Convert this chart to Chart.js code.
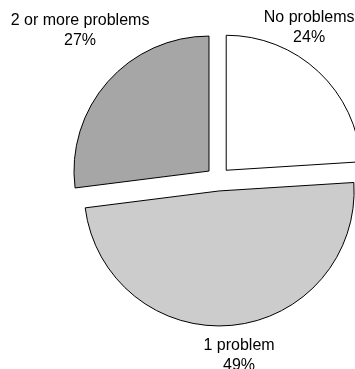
<!DOCTYPE html>
<html>
<head>
<meta charset="utf-8">
<script src="https://cdn.jsdelivr.net/npm/chart.js@4/dist/chart.umd.min.js"></script>
<style>
  html, body { margin: 0; padding: 0; background: #ffffff; }
  #wrap { width: 355px; height: 369px; position: relative; }
</style>
</head>
<body>
<div id="wrap"><canvas id="c" width="355" height="369"></canvas></div>
<script>
const categories = ["No problems", "1 problem", "2 or more problems"];
const values = [24, 49, 27];
const valueLabels = ["24%", "49%", "27%"];
const sliceColors = ["#ffffff", "#cccccc", "#a6a6a6"];

// label anchor as fraction of radius relative to pie centre (first line)
const labelAnchors = [[0.675, -1.196], [0.156, 1.233], [-1.022, -1.174]];
const explode = 12;

const explodePlugin = {
  id: 'explode',
  afterUpdate(chart) {
    const meta = chart.getDatasetMeta(0);
    meta.data.forEach(arc => {
      const mid = (arc.startAngle + arc.endAngle) / 2;
      arc._cx = arc.x; arc._cy = arc.y;
      arc.x = arc.x + Math.cos(mid) * explode;
      arc.y = arc.y + Math.sin(mid) * explode;
    });
  }
};

const labelPlugin = {
  id: 'pieLabels',
  afterDraw(chart) {
    const ctx = chart.ctx;
    const meta = chart.getDatasetMeta(0);
    ctx.save();
    ctx.fillStyle = '#000000';
    ctx.font = '16px "Liberation Sans", Arial, sans-serif';
    ctx.textAlign = 'center';
    ctx.textBaseline = 'middle';
    meta.data.forEach((arc, i) => {
      const r = arc.outerRadius;
      const x = arc._cx + labelAnchors[i][0] * r;
      const y = arc._cy + labelAnchors[i][1] * r;
      ctx.fillText(categories[i], x, y);
      ctx.fillText(valueLabels[i], x, y + 20);
    });
    ctx.restore();
  }
};

new Chart(document.getElementById('c'), {
  type: 'pie',
  data: {
    labels: categories,
    datasets: [{
      data: values,
      backgroundColor: sliceColors,
      borderColor: '#000000',
      borderWidth: 1,
      borderJoinStyle: 'miter',
      offset: 0
    }]
  },
  options: {
    responsive: false,
    animation: false,
    radius: 135,
    layout: { padding: { left: 81, right: 0, top: 0, bottom: 11 } },
    plugins: {
      legend: { display: false },
      tooltip: { enabled: false }
    }
  },
  plugins: [explodePlugin, labelPlugin]
});
</script>
</body>
</html>
